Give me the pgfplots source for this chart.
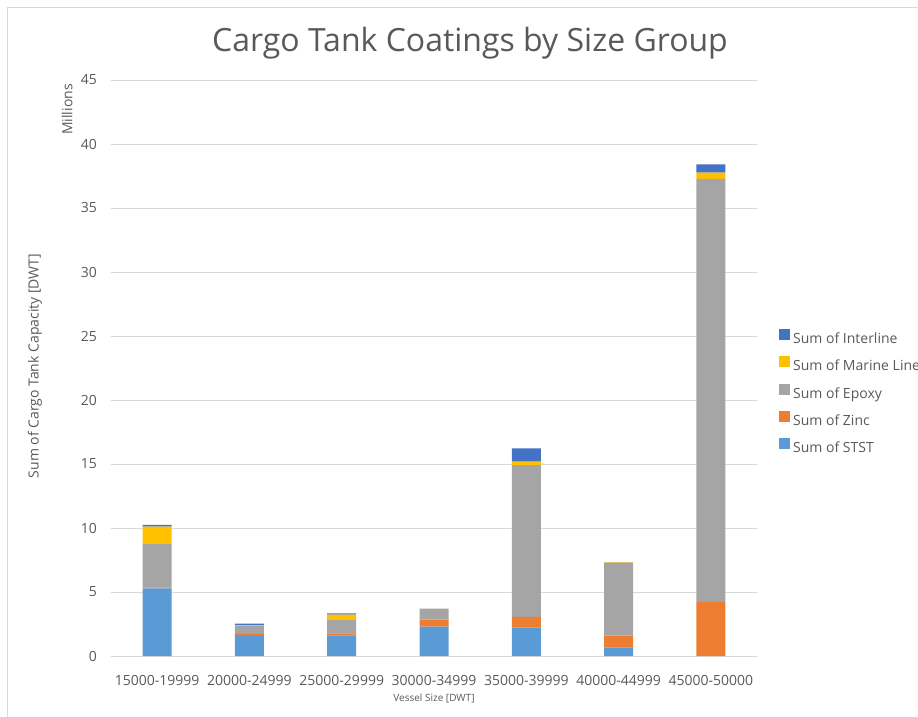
\documentclass[border=0pt]{standalone}
\usepackage{pgfplots}
\pgfplotsset{compat=1.18}
\usepackage{pgfplotstable}
\usepackage{fontspec}
\setmainfont{Open Sans}

\definecolor{ststc}{HTML}{5B9BD5}
\definecolor{zincc}{HTML}{ED7D31}
\definecolor{epoxyc}{HTML}{A5A5A5}
\definecolor{marinec}{HTML}{FFC000}
\definecolor{interc}{HTML}{4472C4}
\definecolor{gridc}{HTML}{D9D9D9}
\definecolor{textc}{HTML}{595959}

% cargo tank capacity per size group, millions of DWT
\pgfplotstableread{
x STST Zinc Epoxy Marine Interline
0 5.29 0.06 3.39 1.37 0.13
1 1.64 0.08 0.62 0.08 0.10
2 1.61 0.16 1.09 0.37 0.10
3 2.29 0.55 0.86 0.00 0.00
4 2.21 0.84 11.87 0.26 1.04
5 0.65 0.94 5.70 0.05 0.00
6 0.00 4.22 33.05 0.49 0.65
}\capdata

\begin{document}
\begin{tikzpicture}
\useasboundingbox (0pt,0pt) rectangle (918pt,716pt);
\draw[gridc, line width=0.8pt] (7pt,-20pt) rectangle (940pt,709pt);
\begin{axis}[
  at={(111pt,60pt)}, anchor=south west,
  scale only axis, width=646pt, height=576pt,
  ybar stacked, bar width=29pt,
  xmin=-0.5, xmax=6.5, ymin=0, ymax=45,
  xtick=data,
  xticklabels={15000-19999,20000-24999,25000-29999,30000-34999,35000-39999,40000-44999,45000-50000},
  ytick={0,5,...,45},
  ymajorgrids, grid style={gridc, line width=0.8pt},
  axis line style={draw=none},
  axis x line*=bottom,
  x axis line style={gridc, line width=0.8pt},
  axis y line*=left,
  y axis line style={draw=none},
  major tick length=0pt,
  tick label style={font=\fontsize{14}{16}\selectfont, text=textc},
  /pgf/number format/assume math mode=true,
  yticklabel style={anchor=east, inner sep=0pt, xshift=-14pt},
  xticklabel style={anchor=north, inner sep=0pt, yshift=-19pt},
  every axis plot/.append style={draw=none},
  legend cell align=left,
  reverse legend,
  legend style={at={(1.0294,0.571)}, anchor=north west, draw=none, fill=none,
    font=\fontsize{14}{16}\selectfont, text=textc,
    nodes={inner sep=0pt, text height=10pt, text depth=3pt},
    row sep=9.6pt, column sep=3pt},
  legend image code/.code={\fill[#1, draw=none] (0pt,0pt) rectangle (11pt,11pt);},
]
\addplot[fill=ststc] table[x=x, y=STST] {\capdata};
\addplot[fill=zincc] table[x=x, y=Zinc] {\capdata};
\addplot[fill=epoxyc] table[x=x, y=Epoxy] {\capdata};
\addplot[fill=marinec] table[x=x, y=Marine] {\capdata};
\addplot[fill=interc] table[x=x, y=Interline] {\capdata};
\legend{Sum of STST,Sum of Zinc,Sum of Epoxy,Sum of Marine Line,Sum of Interline}
\end{axis}
\node[text=textc, font=\fontsize{32}{36}\selectfont] at (470pt,673pt) {Cargo Tank Coatings by Size Group};
\node[text=textc, font=\fontsize{14}{16}\selectfont, rotate=90] at (35pt,350pt) {Sum of Cargo Tank Capacity [DWT]};
\node[text=textc, font=\fontsize{14}{16}\selectfont, rotate=90] at (67pt,606.5pt) {Millions};
\node[text=textc, font=\fontsize{10}{12}\selectfont] at (434pt,18pt) {Vessel Size [DWT]};
\end{tikzpicture}
\end{document}
